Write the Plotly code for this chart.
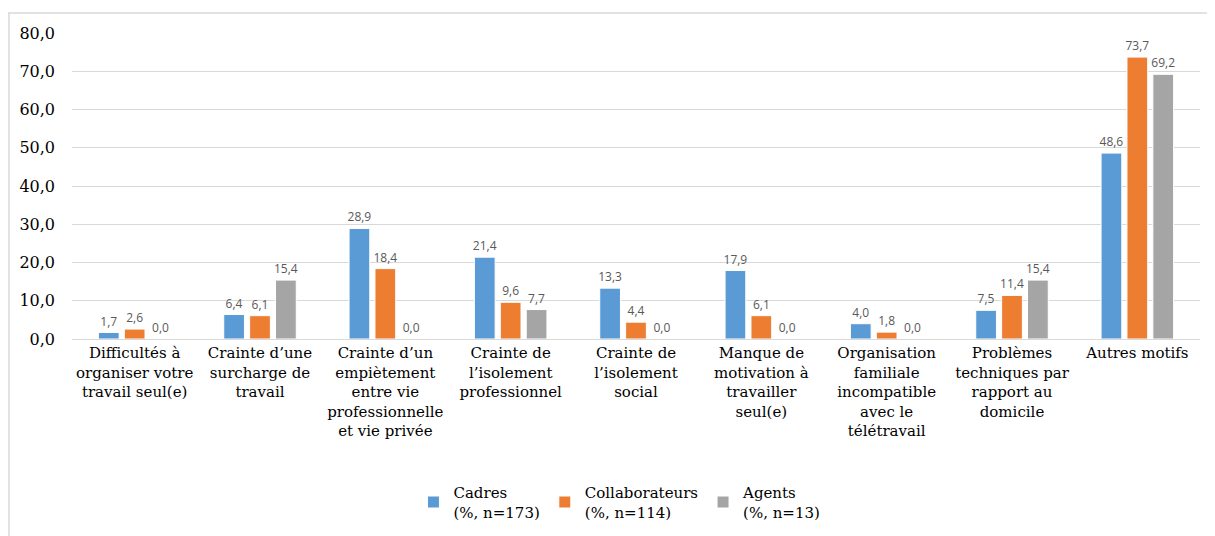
import plotly.graph_objects as go

categories = [
    "Difficultés à<br>organiser votre<br>travail seul(e)",
    "Crainte d’une<br>surcharge de<br>travail",
    "Crainte d’un<br>empiètement<br>entre vie<br>professionnelle<br>et vie privée",
    "Crainte de<br>l’isolement<br>professionnel",
    "Crainte de<br>l’isolement<br>social",
    "Manque de<br>motivation à<br>travailler<br>seul(e)",
    "Organisation<br>familiale<br>incompatible<br>avec le<br>télétravail",
    "Problèmes<br>techniques par<br>rapport au<br>domicile",
    "Autres motifs",
]
cadres = [1.7, 6.4, 28.9, 21.4, 13.3, 17.9, 4.0, 7.5, 48.6]
collaborateurs = [2.6, 6.1, 18.4, 9.6, 4.4, 6.1, 1.8, 11.4, 73.7]
agents = [0.0, 15.4, 0.0, 7.7, 0.0, 0.0, 0.0, 15.4, 69.2]

series = [
    ("Cadres<br>(%, n=173)", cadres, "#5B9BD5"),
    ("Collaborateurs<br>(%, n=114)", collaborateurs, "#ED7D31"),
    ("Agents<br>(%, n=13)", agents, "#A5A5A5"),
]

serif = "DejaVu Serif"

fig = go.Figure()
for name, vals, col in series:
    fig.add_trace(go.Bar(
        x=categories, y=vals, name=name,
        marker=dict(color=col, line=dict(color="white", width=1)),
        texttemplate="%{y:.1f}", textposition="outside", constraintext="none",
        textfont=dict(family="Open Sans", size=12, color="#595959"),
        cliponaxis=False,
    ))

# the page body adds an 8px offset, so the figure is 8px smaller than the window
fig.update_layout(
    width=1207, height=528,
    margin=dict(l=64, r=15, t=25, b=197, autoexpand=False),
    paper_bgcolor="white", plot_bgcolor="white",
    separators=", ",
    barmode="group", bargap=0.38, bargroupgap=0.2,
    font=dict(family=serif, size=15, color="black"),
    showlegend=True,
    legend=dict(orientation="h", xref="container", yref="container",
                x=0.507, xanchor="center", y=(528 - 468) / 528, yanchor="top",
                font=dict(family=serif, size=15), traceorder="normal",
                itemwidth=30),
    xaxis=dict(showline=True, linecolor="#d9d9d9", linewidth=1, ticks="",
               tickangle=0, automargin=False, tickfont=dict(family=serif, size=15)),
    yaxis=dict(range=[0, 80], dtick=10, tickformat=".1f", showgrid=True,
               gridcolor="#d9d9d9", gridwidth=1, zeroline=False, showline=False,
               automargin=False, ticklabelstandoff=16,
               tickfont=dict(family=serif, size=16)),
    shapes=[
        dict(type="line", xref="paper", yref="paper",
             x0=-64 / 1128, x1=(1207 - 64) / 1128,
             y0=1 + 20 / 306, y1=1 + 20 / 306,
             line=dict(color="#d9d9d9", width=1.5)),
        dict(type="line", xref="paper", yref="paper",
             x0=-63 / 1128, x1=-63 / 1128,
             y0=1 + 20 / 306, y1=-197 / 306,
             line=dict(color="#d9d9d9", width=1.5)),
    ],
)

fig.write_html("out.html")
